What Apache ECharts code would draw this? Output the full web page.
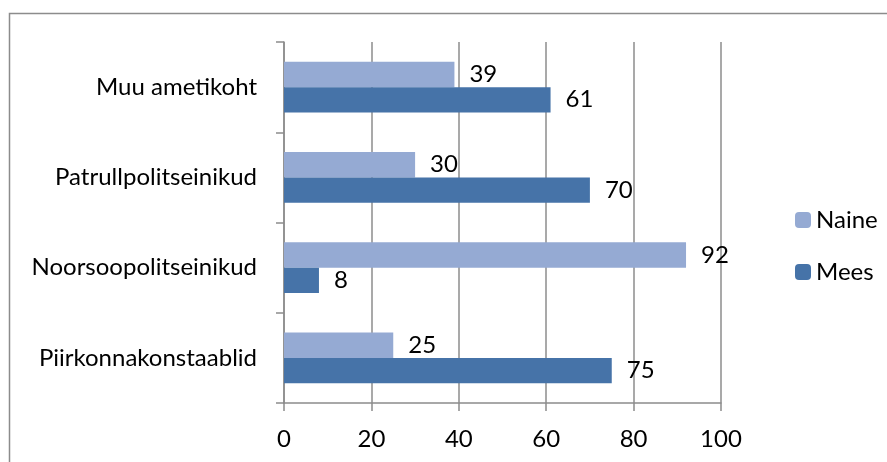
<!DOCTYPE html>
<html><head><meta charset="utf-8">
<script src="https://cdn.jsdelivr.net/npm/echarts@6/dist/echarts.min.js"></script>
<style>html,body{margin:0;padding:0;background:#fff}#c{width:887px;height:462px}</style>
</head><body><div id="c"></div>
<script>
const categories = ['Piirkonnakonstaablid','Noorsoopolitseinikud','Patrullpolitseinikud','Muu ametikoht'];
const naine = [25, 92, 30, 39];
const mees = [75, 8, 70, 61];
const xTicks = [0, 20, 40, 60, 80, 100];

const FONT = 'Lato';
const FS = 24;
const chart = echarts.init(document.getElementById('c'));
const lbl = {show:true, position:'right', distance:15, color:'#000', fontSize:FS, fontFamily:FONT};
chart.setOption({
  animation:false,
  graphic:[{type:'rect', shape:{x:9.5,y:13.5,width:1000,height:1000}, style:{fill:'none', stroke:'#8c8c8c', lineWidth:1.5}}],
  grid:{left:284, right:166, top:42, bottom:59},
  legend:{orient:'vertical', left:790, top:203, itemWidth:16, itemHeight:16, itemGap:28,
    data:['Naine','Mees'], textStyle:{fontSize:FS, fontFamily:FONT, color:'#000'}},
  xAxis:{type:'value', min:xTicks[0], max:xTicks[xTicks.length-1], interval:20,
    axisLine:{show:true, lineStyle:{color:'#8c8c8c', width:1.5}},
    axisTick:{show:true, length:8, lineStyle:{color:'#8c8c8c', width:1.5}},
    splitLine:{show:true, lineStyle:{color:'#8c8c8c', width:1.5}},
    axisLabel:{fontSize:FS, fontFamily:FONT, color:'#000', margin:24}},
  yAxis:{type:'category', data:categories,
    axisLine:{show:true, lineStyle:{color:'#8c8c8c', width:1.5}},
    axisTick:{show:true, length:8, lineStyle:{color:'#8c8c8c', width:1.5}},
    axisLabel:{fontSize:FS, fontFamily:FONT, color:'#000', margin:27}},
  series:[
    {name:'Naine', type:'bar', data:naine, itemStyle:{color:'#95aad3'}, barGap:'0%', barCategoryGap:'44%', label:lbl},
    {name:'Mees', type:'bar', data:mees, itemStyle:{color:'#4673a8'}, barGap:'0%', barCategoryGap:'44%', label:lbl}
  ]
});
</script></body></html>
